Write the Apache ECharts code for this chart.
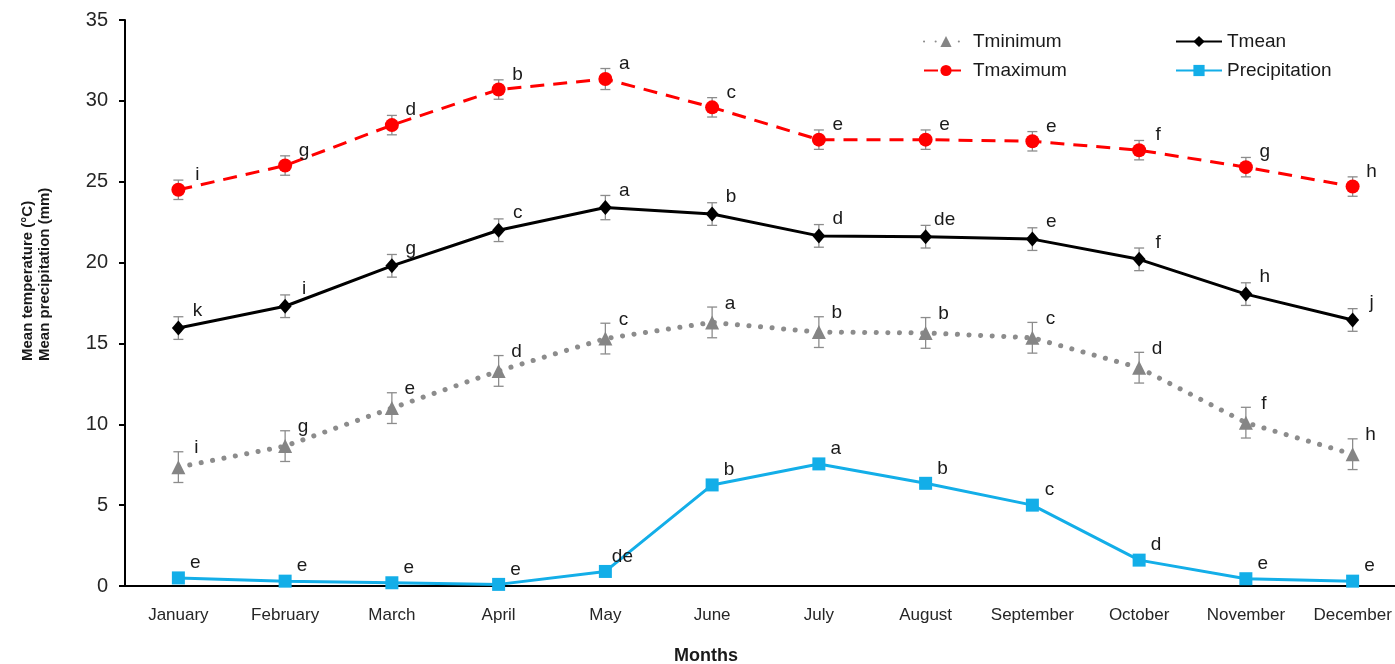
<!DOCTYPE html>
<html>
<head>
<meta charset="utf-8">
<script src="https://cdn.jsdelivr.net/npm/echarts@6/dist/echarts.min.js"></script>
<style>
html,body{margin:0;padding:0;background:#fff;overflow:hidden;}
#chart{width:1395px;height:664px;}
</style>
</head>
<body>
<div id="chart"></div>
<script>
var months = ['January','February','March','April','May','June','July','August','September','October','November','December'];
var tmax = [24.5, 26.0, 28.5, 30.7, 31.35, 29.6, 27.6, 27.6, 27.5, 26.95, 25.9, 24.7];
var tmaxErr = [0.6, 0.6, 0.6, 0.6, 0.65, 0.6, 0.6, 0.6, 0.6, 0.6, 0.6, 0.6];
var tmaxLetters = ['i','g','d','b','a','c','e','e','e','f','g','h'];
var tmean = [15.95, 17.3, 19.8, 22.0, 23.4, 23.0, 21.65, 21.6, 21.45, 20.2, 18.05, 16.45];
var tmeanErr = [0.7, 0.7, 0.7, 0.7, 0.75, 0.7, 0.7, 0.7, 0.7, 0.7, 0.7, 0.7];
var tmeanLetters = ['k','i','g','c','a','b','d','de','e','f','h','j'];
var tmin = [7.35, 8.65, 11.0, 13.3, 15.3, 16.3, 15.7, 15.65, 15.35, 13.5, 10.1, 8.15];
var tminErr = [0.95, 0.95, 0.95, 0.95, 0.95, 0.95, 0.95, 0.95, 0.95, 0.95, 0.95, 0.95];
var tminLetters = ['i','g','e','d','c','a','b','b','c','d','f','h'];
var precip = [0.5, 0.3, 0.2, 0.1, 0.9, 6.25, 7.55, 6.35, 5.0, 1.6, 0.45, 0.3];
var precipLetters = ['e','e','e','e','de','b','a','b','c','d','e','e'];
var yTicks = [0, 5, 10, 15, 20, 25, 30, 35];

var FONT = 'Liberation Sans, Arial, sans-serif';
var TXT = '#1a1a1a';

function errSeries(vals, errs){
  return {
    type:'custom', z:1, silent:true,
    data: vals.map(function(v,i){ return [i, v, errs[i]]; }),
    encode:{x:0, y:1},
    renderItem:function(params, api){
      var x = api.value(0), v = api.value(1), e = api.value(2);
      var top = api.coord([x, v + e]);
      var bot = api.coord([x, v - e]);
      var cw = 5;
      var st = {stroke:'#8c8c8c', lineWidth:1.3};
      return {type:'group', children:[
        {type:'line', shape:{x1:top[0], y1:top[1], x2:bot[0], y2:bot[1]}, style:st},
        {type:'line', shape:{x1:top[0]-cw, y1:top[1], x2:top[0]+cw, y2:top[1]}, style:st},
        {type:'line', shape:{x1:bot[0]-cw, y1:bot[1], x2:bot[0]+cw, y2:bot[1]}, style:st}
      ]};
    }
  };
}
function letterLabel(letters, off){
  return {
    show:true, position:'inside', offset:off, align:'center', verticalAlign:'middle',
    fontFamily:FONT, fontSize:19, color:TXT,
    formatter:function(p){ return letters[p.dataIndex]; }
  };
}

var chart = echarts.init(document.getElementById('chart'), null, {renderer:'canvas'});
chart.setOption({
  animation:false,
  backgroundColor:'#fff',
  grid:{left:125, right:-11, top:20, bottom:78, containLabel:false, outerBoundsMode:'none'},
  legend:[
    {left:918, top:27, orient:'vertical', itemWidth:44, itemHeight:14, itemGap:10,
     data:['Tminimum','Tmaximum'],
     textStyle:{fontFamily:FONT, fontSize:19, color:TXT}},
    {left:1170, top:27, orient:'vertical', itemWidth:46, itemHeight:14, itemGap:10,
     data:['Tmean','Precipitation'],
     textStyle:{fontFamily:FONT, fontSize:19, color:TXT}}
  ],
  graphic:[
    {type:'text', x:706, y:656,
     style:{text:'Months', fontFamily:FONT, fontSize:18, fontWeight:'bold', fill:TXT, align:'center', verticalAlign:'middle'}},
    {type:'text', x:36, y:361, rotation:Math.PI/2,
     style:{text:'Mean temperature (°C)\nMean precipitation (mm)', fontFamily:FONT, fontSize:15, fontWeight:'bold', lineHeight:17, fill:TXT, align:'left', verticalAlign:'middle'}}
  ],
  xAxis:{
    type:'category', data:months, boundaryGap:true,
    axisLine:{lineStyle:{color:'#000', width:2}},
    axisTick:{show:false},
    axisLabel:{interval:0, fontFamily:FONT, fontSize:17, color:'#262626', margin:21, hideOverlap:false}
  },
  yAxis:{
    type:'value', min:0, max:35, interval:5,
    axisLine:{show:true, lineStyle:{color:'#000', width:2}},
    axisTick:{show:true, length:6, lineStyle:{color:'#000', width:2}},
    splitLine:{show:false},
    axisLabel:{fontFamily:FONT, fontSize:20, color:'#262626', margin:17,
      formatter:function(v){ return yTicks.indexOf(v) >= 0 ? String(v) : ''; }}
  },
  series:[
    errSeries(tmin, tminErr),
    errSeries(tmax, tmaxErr),
    errSeries(tmean, tmeanErr),
    {
      name:'Tminimum', type:'line', data:tmin, z:3,
      symbol:'triangle', symbolSize:14,
      itemStyle:{color:'#858585'},
      lineStyle:{color:'#8c8c8c', width:5, type:[0.1, 11.5], cap:'round'},
      label:letterLabel(tminLetters, [18, -19])
    },
    {
      name:'Tmean', type:'line', data:tmean, z:4,
      symbol:'diamond', symbolSize:[13,15],
      itemStyle:{color:'#000'},
      lineStyle:{color:'#000', width:3},
      label:letterLabel(tmeanLetters, [19, -17])
    },
    {
      name:'Tmaximum', type:'line', data:tmax, z:4,
      symbol:'circle', symbolSize:14,
      itemStyle:{color:'#ff0000'},
      lineStyle:{color:'#ff0000', width:3, type:[14, 9]},
      label:letterLabel(tmaxLetters, [19, -15])
    },
    {
      name:'Precipitation', type:'line', data:precip, z:4,
      symbol:'rect', symbolSize:13,
      itemStyle:{color:'#13aee8'},
      lineStyle:{color:'#13aee8', width:3},
      label:letterLabel(precipLetters, [17, -15])
    }
  ]
});
</script>
</body>
</html>
